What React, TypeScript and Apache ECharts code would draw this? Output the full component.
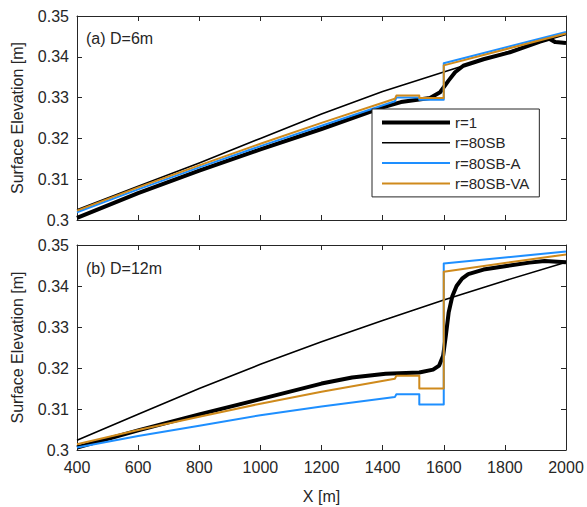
import { useEffect, useRef } from "react";
import * as echarts from "echarts";

// Axis ranges shared by both panels
const X_MIN = 400;
const X_MAX = 2000;
const X_STEP = 200;
const Y_MIN = 0.3;
const Y_MAX = 0.35;
const Y_STEP = 0.01;

const SERIES_NAMES = ["r=1", "r=80SB", "r=80SB-A", "r=80SB-VA"];
const PANEL_LABELS = ["(a) D=6m", "(b) D=12m"];

// Panel (a), D = 6 m : [X (m), surface elevation (m)]
const a_r1: [number, number][] = [
  [400, 0.3005], [600, 0.3066], [800, 0.3121], [1000, 0.3173], [1200, 0.3223],
  [1400, 0.3276], [1460, 0.3289], [1555, 0.3299], [1588, 0.3313], [1615, 0.3341],
  [1637, 0.3362], [1664, 0.3378], [1730, 0.3394], [1816, 0.3411], [1915, 0.3437],
  [1945, 0.3444], [1965, 0.3436], [2000, 0.3434],
];
const a_80SB: [number, number][] = [
  [400, 0.3025], [600, 0.3083], [800, 0.314], [1000, 0.32], [1200, 0.326],
  [1400, 0.3315], [1600, 0.3363], [1800, 0.341], [2000, 0.3455],
];
const a_80SB_A: [number, number][] = [
  [400, 0.3019], [600, 0.3075], [800, 0.3129], [1000, 0.3181], [1200, 0.3231],
  [1440, 0.3291], [1445, 0.33], [1520, 0.33], [1520, 0.3295], [1600, 0.3295],
  [1600, 0.3384], [2000, 0.3461],
];
const a_80SB_VA: [number, number][] = [
  [400, 0.3023], [600, 0.308], [800, 0.3134], [1000, 0.3187], [1200, 0.3238],
  [1440, 0.3297], [1445, 0.3305], [1520, 0.3305], [1520, 0.3299], [1600, 0.3299],
  [1600, 0.3379], [2000, 0.3457],
];

// Panel (b), D = 12 m
const b_r1: [number, number][] = [
  [400, 0.3006], [600, 0.3048], [800, 0.3087], [1000, 0.3124], [1200, 0.3162],
  [1300, 0.3177], [1410, 0.3186], [1520, 0.3189], [1565, 0.3196], [1585, 0.3206],
  [1598, 0.323], [1607, 0.328], [1616, 0.3335], [1628, 0.3375], [1642, 0.34],
  [1660, 0.3418], [1680, 0.3429], [1730, 0.344], [1800, 0.3448], [1880, 0.3457],
  [1930, 0.3461], [2000, 0.3458],
];
const b_80SB: [number, number][] = [
  [400, 0.3024], [600, 0.3087], [800, 0.315], [1000, 0.3209], [1200, 0.3264],
  [1400, 0.3316], [1600, 0.3366], [1800, 0.3413], [2000, 0.3458],
];
const b_80SB_A: [number, number][] = [
  [400, 0.3006], [600, 0.3034], [800, 0.3059], [1000, 0.3085], [1200, 0.3106],
  [1440, 0.3129], [1445, 0.3136], [1520, 0.3136], [1520, 0.3111], [1600, 0.3111],
  [1600, 0.3455], [2000, 0.3484],
];
const b_80SB_VA: [number, number][] = [
  [400, 0.3014], [600, 0.3049], [800, 0.3081], [1000, 0.3113], [1200, 0.3142],
  [1440, 0.3174], [1445, 0.3181], [1520, 0.3181], [1520, 0.315], [1600, 0.315],
  [1600, 0.3435], [2000, 0.3477],
];

const PANEL_DATA = [
  [a_r1, a_80SB, a_80SB_A, a_80SB_VA],
  [b_r1, b_80SB, b_80SB_A, b_80SB_VA],
];

const LINE_COLORS = ["#000000", "#000000", "#1e8fff", "#cf8a1c"];
const LINE_WIDTHS = [4, 1.6, 2, 2];

const FONT = "'Liberation Sans', Arial, Helvetica, sans-serif";
const INK = "#262626";

export default function App() {
  const ref = useRef<HTMLDivElement>(null);

  useEffect(() => {
    if (!ref.current) return;
    const chart = echarts.init(ref.current, undefined, { renderer: "svg" });

    const grids = [
      { left: 77, right: 21, top: 16, height: 204 },
      { left: 77, right: 21, top: 245, height: 205 },
    ];

    const xAxes: any[] = [];
    const yAxes: any[] = [];
    grids.forEach((_, g) => {
      const isBottom = g === 1;
      // bottom x axis with labels (only on lower panel)
      xAxes.push({
        type: "value",
        gridIndex: g,
        min: X_MIN,
        max: X_MAX,
        interval: X_STEP,
        position: "bottom",
        name: isBottom ? "X [m]" : "",
        nameLocation: "middle",
        nameGap: 38,
        nameTextStyle: { color: INK, fontSize: 16, fontFamily: FONT },
        axisLine: { show: true, onZero: false, lineStyle: { color: INK, width: 1 } },
        axisTick: { show: true, inside: true, length: 5, lineStyle: { color: INK } },
        axisLabel: {
          show: isBottom,
          color: INK,
          fontSize: 16,
          fontFamily: FONT,
          margin: 9,
          formatter: (v: number) => String(v),
        },
        splitLine: { show: false },
      });
      // mirrored top x axis (ticks only)
      xAxes.push({
        type: "value",
        gridIndex: g,
        min: X_MIN,
        max: X_MAX,
        interval: X_STEP,
        position: "top",
        axisLine: { show: true, onZero: false, lineStyle: { color: INK, width: 1 } },
        axisTick: { show: true, inside: true, length: 5, lineStyle: { color: INK } },
        axisLabel: { show: false },
        splitLine: { show: false },
      });
      yAxes.push({
        type: "value",
        gridIndex: g,
        min: Y_MIN,
        max: Y_MAX,
        interval: Y_STEP,
        position: "left",
        name: "Surface Elevation [m]",
        nameLocation: "middle",
        nameGap: 52,
        nameRotate: 90,
        nameTextStyle: { color: INK, fontSize: 16, fontFamily: FONT },
        axisLine: { show: true, onZero: false, lineStyle: { color: INK, width: 1 } },
        axisTick: { show: true, inside: true, length: 5, lineStyle: { color: INK } },
        axisLabel: {
          color: INK,
          fontSize: 16,
          fontFamily: FONT,
          margin: 8,
          formatter: (v: number) => String(Number(v.toFixed(2))),
        },
        splitLine: { show: false },
      });
      // mirrored right y axis (ticks only)
      yAxes.push({
        type: "value",
        gridIndex: g,
        min: Y_MIN,
        max: Y_MAX,
        interval: Y_STEP,
        position: "right",
        axisLine: { show: true, onZero: false, lineStyle: { color: INK, width: 1 } },
        axisTick: { show: true, inside: true, length: 5, lineStyle: { color: INK } },
        axisLabel: { show: false },
        splitLine: { show: false },
      });
    });

    const series: any[] = [];
    PANEL_DATA.forEach((panel, g) => {
      panel.forEach((data, i) => {
        series.push({
          type: "line",
          name: SERIES_NAMES[i],
          xAxisIndex: g * 2,
          yAxisIndex: g * 2,
          data,
          symbol: "none",
          showSymbol: false,
          clip: true,
          lineStyle: { color: LINE_COLORS[i], width: LINE_WIDTHS[i], join: "round", cap: "butt" },
          itemStyle: { color: LINE_COLORS[i] },
          z: 2 + i,
        });
      });
    });

    chart.setOption({
      animation: false,
      backgroundColor: "#ffffff",
      grid: grids,
      xAxis: xAxes,
      yAxis: yAxes,
      series,
      legend: {
        data: SERIES_NAMES.map((name, i) => ({
          name,
          itemStyle: { opacity: 0, borderWidth: 0 },
          lineStyle: { color: LINE_COLORS[i], width: LINE_WIDTHS[i], opacity: 1 },
        })),
        orient: "vertical",
        left: 372,
        top: 109,
        itemWidth: 68,
        itemHeight: 12,
        itemGap: 5.3,
        padding: [6, 10, 6, 8],
        backgroundColor: "#ffffff",
        borderColor: INK,
        borderWidth: 1,
        selectedMode: false,
        textStyle: { color: INK, fontSize: 15, fontFamily: FONT, lineHeight: 15 },
        z: 10,
      },
      graphic: PANEL_LABELS.map((label, g) => ({
        type: "text",
        left: 86,
        top: g === 0 ? 30 : 260,
        z: 10,
        style: { text: label, fill: INK, fontSize: 16, fontFamily: FONT },
      })),
    });

    return () => chart.dispose();
  }, []);

  return (
    <div
      ref={ref}
      style={{ position: "fixed", left: 0, top: 0, width: 587, height: 507 }}
    />
  );
}
